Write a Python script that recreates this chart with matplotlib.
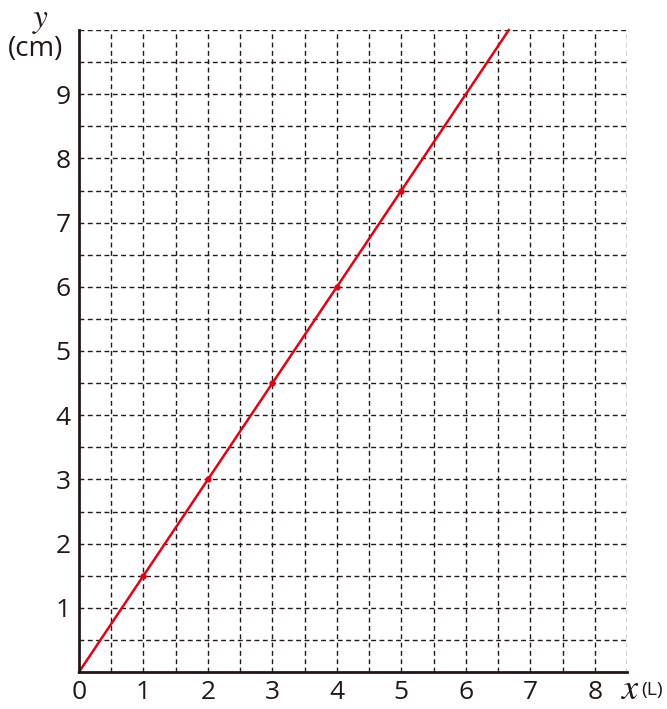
import matplotlib
matplotlib.use("Agg")
import matplotlib.pyplot as plt
import numpy as np

x_points = [1, 2, 3, 4, 5]
y_points = [1.5, 3, 4.5, 6, 7.5]
line_x = [0, 6.667]
line_y = [0, 10]
x_ticks = [0, 1, 2, 3, 4, 5, 6, 7, 8]
y_ticks = [1, 2, 3, 4, 5, 6, 7, 8, 9]

plt.rcParams['font.family'] = ['Open Sans', 'DejaVu Sans']
plt.rcParams['mathtext.fontset'] = 'stix'

fig = plt.figure(figsize=(6.67, 7.09), dpi=100)
ax = fig.add_axes([79/667, 37/709, 548/667, 642/709])
ax.set_xlim(0, 8.5)
ax.set_ylim(0, 10)

grid_kw = dict(color='#231815', lw=1.0, ls=(0, (3.5, 2.5)), zorder=1)
for gx in np.arange(0.5, 8.51, 0.5):
    ax.axvline(gx, **grid_kw)
for gy in np.arange(0.5, 10.01, 0.5):
    ax.axhline(gy, **grid_kw)

ax.plot(line_x, line_y, color='#e60012', lw=1.8, zorder=3, clip_on=False)
ax.plot(x_points, y_points, 'o', color='#e60012', ms=3.5, zorder=4)

for s in ['top', 'right']:
    ax.spines[s].set_visible(False)
for s in ['left', 'bottom']:
    ax.spines[s].set_color('#231815')
    ax.spines[s].set_linewidth(2.0)
    ax.spines[s].set_zorder(5)

ax.set_xticks(x_ticks)
ax.set_yticks(y_ticks)
ax.tick_params(length=0, labelsize=19, colors='#231815', pad=6)

ax.text(8.56, -0.28, r'$x$', fontsize=26, ha='center', va='center',
        clip_on=False, color='#231815')
ax.text(8.72, -0.28, '(L)', fontsize=14, ha='left', va='center', clip_on=False, color='#231815')
ax.text(-0.6, 10.17, r'$y$', fontsize=24, ha='center', va='center', clip_on=False, color='#231815')
ax.text(-0.68, 9.7, '(cm)', fontsize=20, ha='center', va='center', clip_on=False, color='#231815')

fig.savefig('out.png', dpi=100)
